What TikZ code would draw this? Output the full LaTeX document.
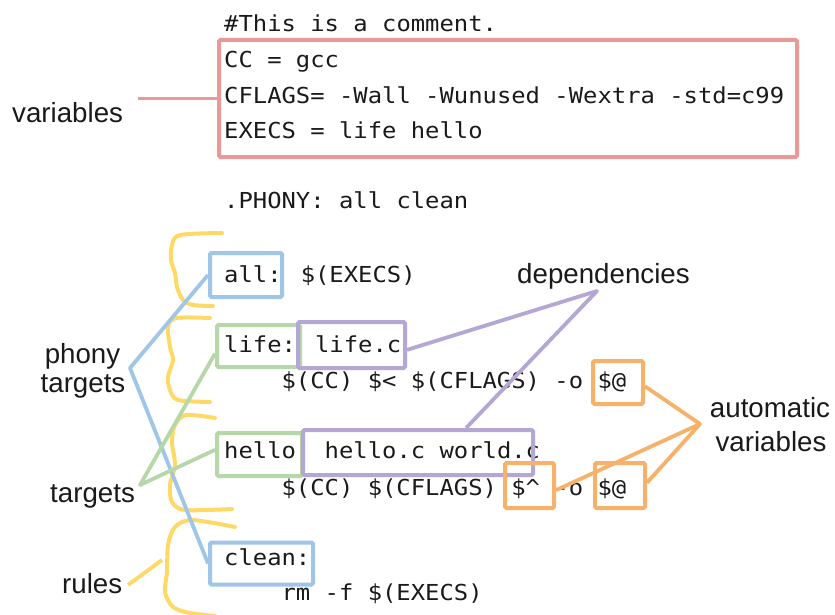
\documentclass[tikz,border=0pt]{standalone}
\usepackage{fontspec}
\newfontfamily\codefont[FakeStretch=1.0842]{DejaVu Sans Mono}
\newfontfamily\labfont{Liberation Sans}
\definecolor{cRed}{HTML}{EA9999}
\definecolor{cBlue}{HTML}{9FC5E8}
\definecolor{cGreen}{HTML}{B6D7A8}
\definecolor{cPurple}{HTML}{B4A7D6}
\definecolor{cOrange}{HTML}{F6B26B}
\definecolor{cYel}{HTML}{FFD966}
\definecolor{ink}{HTML}{1A1A1A}
\begin{document}
\begin{tikzpicture}[x=1pt,y=-1pt,
  code/.style={font=\codefont\fontsize{22pt}{26pt}\selectfont, text=ink, anchor=base west, inner sep=0pt},
  lab/.style={font=\labfont\fontsize{27.7pt}{33pt}\selectfont, text=ink, inner sep=0pt},
  hl/.style={draw=#1, line width=4pt, rounded corners=1.5pt, inner sep=0pt},
  conn/.style={draw=#1, line width=3.8pt, line join=round},
  bracepath/.style={draw=cYel, line width=4pt, line cap=round, line join=round}]
\fill[white] (0,0) rectangle (835,615);
\useasboundingbox (0,0) rectangle (835,615);

% code text
\node[code] (t1) at (224,32) {\#This is a comment.};
\node[code] (t2) at (224,68) {CC = gcc};
\node[code] (t3) at (224,104) {CFLAGS= -Wall -Wunused -Wextra -std=c99};
\node[code] (t4) at (224,139) {EXECS = life hello};
\node[code] (t5) at (224,208) {.PHONY: all clean};
\node[code] (t6) at (224,282) {all: \$(EXECS)};
\node[code] (t7) at (224,352) {life: life.c};
\node[code] (t8) at (281.4,388) {\$(CC) \$< \$(CFLAGS) -o \$@};
\node[code] (t9a) at (224,458) {hello};
\node[code] (t9b) at (324.5,458) {hello.c world.c};
\node[code] (t10) at (281.4,495) {\$(CC) \$(CFLAGS) \$\textasciicircum{} -o \$@};
\node[code] (t11) at (224,565) {clean:};
\node[code] (t12) at (281.4,600) {rm -f \$(EXECS)};

% labels
\node[lab, anchor=base west] (lvar) at (12,123) {variables};
\node[lab, anchor=base] (lphony1) at (82.5,363) {phony};
\node[lab, anchor=base] (lphony2) at (83,392) {targets};
\node[lab, anchor=base west] (ltarg) at (50,502) {targets};
\node[lab, anchor=base west] (lrules) at (62,593) {rules};
\node[lab, anchor=base west] (ldep) at (517,283) {dependencies};
\node[lab, anchor=base] (lauto1) at (770,417) {automatic};
\node[lab, anchor=base] (lauto2) at (771,451) {variables};

% braces
\draw[bracepath] plot[smooth, tension=0.5] coordinates {(222,233) (180,235) (172,245) (171,260) (175,273) (177,287) (183,300) (193,305) (213,306)};
\draw[bracepath] plot[smooth, tension=0.5] coordinates {(210,318) (176,318) (168,327) (170,347) (173,360) (168,377) (170,390) (178,400) (210,402)};
\draw[bracepath] plot[smooth, tension=0.5] coordinates {(215,418) (186,415) (175,425) (172,442) (175,465) (170,485) (172,502) (185,510) (232,509)};
\draw[bracepath] plot[smooth, tension=0.5] coordinates {(235,527) (192,520) (175,527) (168,545) (167,572) (165,592) (173,607) (190,613) (215,616)};

% highlight boxes
\node[hl=cRed, minimum width=578pt, minimum height=117pt] (vars) at (508,98.5) {};
\node[hl=cBlue, minimum width=72pt, minimum height=44pt] (allbox) at (246,275) {};
\node[hl=cGreen, minimum width=83pt, minimum height=42pt] (lifebox) at (258.5,346) {};
\node[hl=cPurple, minimum width=107pt, minimum height=46pt] (lifecbox) at (351.5,345) {};
\node[hl=cGreen, minimum width=85pt, minimum height=43pt] (hellobox) at (259.5,454.5) {};
\node[hl=cPurple, minimum width=230pt, minimum height=45pt] (hellocbox) at (418,452.5) {};
\node[hl=cOrange, minimum width=50pt, minimum height=43pt] (atone) at (618,382.5) {};
\node[hl=cOrange, minimum width=49pt, minimum height=45pt] (hat) at (529.5,485.5) {};
\node[hl=cOrange, minimum width=50pt, minimum height=45pt] (attwo) at (620,485.5) {};
\node[hl=cBlue, minimum width=103pt, minimum height=42pt] (cleanbox) at (261.5,563.5) {};

% connector vertices
\coordinate (cvar) at (138,98.5);
\coordinate (vphony) at (130,368);
\coordinate (vtarg) at (140,485);
\coordinate (vdep) at (597,291);
\coordinate (vauto) at (700,424);
\coordinate (crule1) at (128,585);
\coordinate (crule2) at (162,560);

% connectors
\draw[conn=cRed] (cvar) -- (vars.west);
\draw[conn=cBlue] (allbox.west) -- (vphony) -- (cleanbox.west);
\draw[conn=cGreen] (lifebox.190) -- (vtarg) -- (hellobox.174);
\draw[conn=cPurple] (lifecbox.-5) -- (vdep) -- (hellocbox.27);
\draw[conn=cOrange] (atone.-8) -- (vauto) -- (hat.-10);
\draw[conn=cOrange] (vauto) -- (attwo.6);
\draw[conn=cYel] (crule1) -- (crule2);
\end{tikzpicture}
\end{document}
